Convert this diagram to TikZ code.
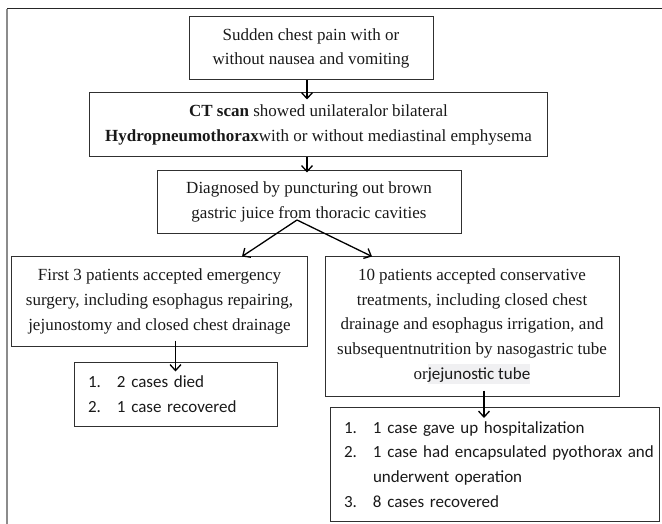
\documentclass[tikz,border=0pt]{standalone}
\usepackage{fontspec}
\setmainfont{Liberation Serif}
\newfontfamily\carlito{Carlito}
\usetikzlibrary{arrows.meta,calc}
\definecolor{framegray}{HTML}{8C8C8C}
\definecolor{boxline}{HTML}{303030}
\definecolor{hlgray}{HTML}{F0F0F2}
\newcommand\caseitem[2]{\mbox{\makebox[29bp][l]{#1}#2}}
\newcommand\hlbox[1]{{\setlength\fboxsep{0pt}\colorbox{hlgray}{\rule[-5bp]{0pt}{20bp}#1}}}

\begin{document}
\begin{tikzpicture}[x=1bp, y=-1bp, box/.style = {draw=boxline, line width=1bp, inner sep=0pt, align=center, text=black!90, font=\fontsize{17bp}{24.7bp}\selectfont}, listbox/.style = {box, align=left, inner xsep=14bp, font=\fontsize{17bp}{24.7bp}\selectfont\carlito}]
\useasboundingbox (0,0) rectangle (662,524);
\draw[black!85, line width=1bp] (7,9) -- (662,9);
\draw[framegray, line width=2bp] (7,9) -- (7,524);

\node[box, minimum width=244bp, minimum height=63bp] (chest_pain) at (311,48.5) {Sudden chest pain with or\\without nausea and vomiting};
\node[box, minimum width=457bp, minimum height=64bp] (ct_scan) at (318.5,125) {\textbf{CT scan} showed unilateralor bilateral\\\textbf{Hydropneumothorax}with or without mediastinal emphysema};
\node[box, minimum width=304bp, minimum height=62bp] (diagnosed) at (309,202) {Diagnosed by puncturing out brown\\gastric juice from thoracic cavities};
\node[box, minimum width=295bp, minimum height=89bp] (surgery) at (159.5,301.5) {First 3 patients accepted emergency\\surgery, including esophagus repairing,\\jejunostomy and closed chest drainage};
\node[box, minimum width=294bp, minimum height=139bp] (conservative) at (472,326.5) {10 patients accepted conservative\\treatments, including closed chest\\drainage and esophagus irrigation, and\\subsequentnutrition by nasogastric tube\\or\hlbox{\carlito jejunostic tube}};
\node[listbox, text width=175bp, minimum height=64bp] (surgery_out) at (175.5,394) {\caseitem{1.}{2 cases died}\\\caseitem{2.}{1 case recovered}};
\node[listbox, text width=301bp, minimum height=114bp] (conservative_out) at (494.5,464.5) {\caseitem{1.}{1 case gave up hospitalization}\\\caseitem{2.}{1 case had encapsulated pyothorax and}\\\caseitem{}{underwent operation}\\\caseitem{3.}{8 cases recovered}};
\coordinate (fork) at (297,220);

\begin{scope}[-{Straight Barb[length=6bp,width=11bp]}, line width=1.3bp]
\path [color=black] ($(chest_pain.south)+(-4,0)$) edge ($(chest_pain.south |- ct_scan.north)+(-4,7)$);
\path [color=black] ($(ct_scan.south -| diagnosed.north)+(-2,0)$) edge ($(diagnosed.north)+(-2,2)$);
\path [color=black] (fork) edge ($(surgery.north)+(82.5,0)$);
\path [color=black] (fork) edge ($(conservative.north)+(-100,0)$);
\path [color=black] ($(surgery_out.north |- surgery.south)+(0,-6)$) edge ($(surgery_out.north)+(0,10)$);
\path [color=black] ($(conservative.south)+(12,-6)$) edge ($(conservative_out.north)+(-10.5,11)$);
\end{scope}
\end{tikzpicture}
\end{document}
